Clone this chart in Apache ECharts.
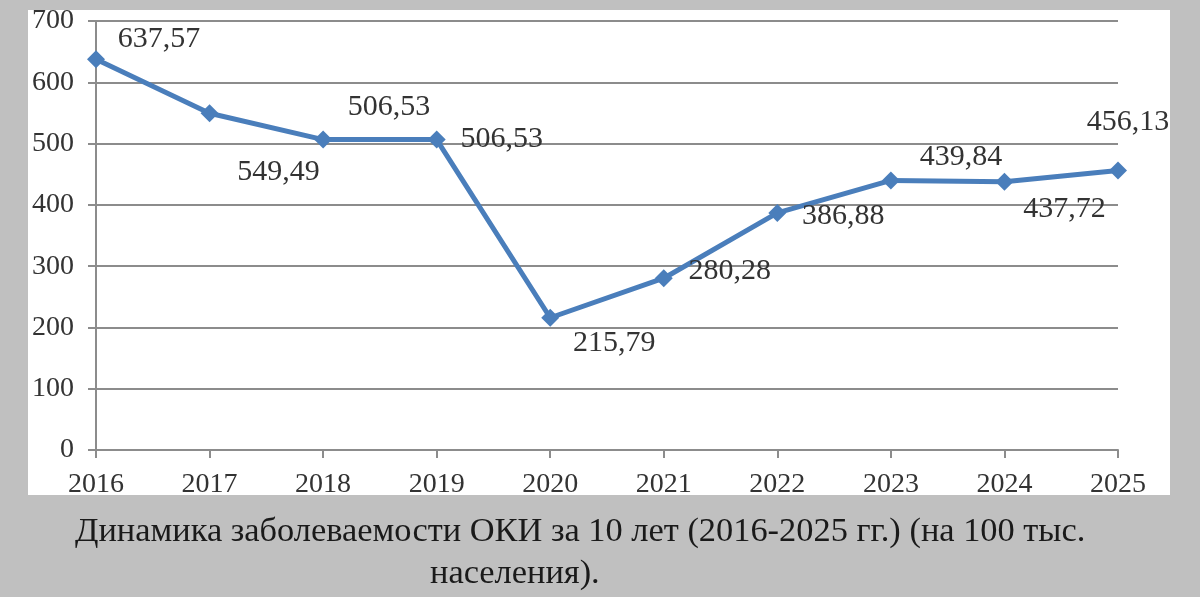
<!DOCTYPE html>
<html>
<head>
<meta charset="utf-8">
<script src="https://cdn.jsdelivr.net/npm/echarts@6/dist/echarts.min.js"></script>
<style>
html,body{margin:0;padding:0;background:#c0c0c0;}
#c{width:1200px;height:597px;}
</style>
</head>
<body>
<div id="c"></div>
<script>
const categories = ['2016','2017','2018','2019','2020','2021','2022','2023','2024','2025'];
const values = [637.57, 549.49, 506.53, 506.53, 215.79, 280.28, 386.88, 439.84, 437.72, 456.13];
const valueLabels = ['637,57','549,49','506,53','506,53','215,79','280,28','386,88','439,84','437,72','456,13'];
const yTicks = [0, 100, 200, 300, 400, 500, 600, 700];
const captionLine1 = 'Динамика заболеваемости ОКИ за 10 лет (2016-2025 гг.) (на 100 тыс.';
const captionLine2 = 'населения).';

// label placement (layout only)
const labelOffsets = [[63,-20],[69,59],[66,-32],[65,0],[64,25],[66,-7],[66,3],[70,-23],[60,27],[10,-48]];

const serif = '"Liberation Serif", "DejaVu Serif", serif';
const chart = echarts.init(document.getElementById('c'));
chart.setOption({
  animation: false,
  backgroundColor: '#c0c0c0',
  graphic: [
    {type:'rect', z:-10, shape:{x:28,y:10,width:1142,height:485}, style:{fill:'#ffffff'}},
    {type:'text', left:75, top:515, style:{text:captionLine1, font:'34.4px ' + serif, fill:'#1a1a1a'}},
    {type:'text', left:430, top:557, style:{text:captionLine2, font:'34.4px ' + serif, fill:'#1a1a1a'}}
  ],
  grid: {left:96, right:82, top:21, bottom:147, containLabel:false},
  xAxis: {
    type:'category', data:categories, boundaryGap:false,
    axisLine:{lineStyle:{color:'#8c8c8c', width:2}},
    axisTick:{show:true, length:8, lineStyle:{color:'#8c8c8c', width:2}},
    axisLabel:{color:'#333', fontFamily:serif, fontSize:28, margin:21}
  },
  yAxis: {
    type:'value', min:yTicks[0], max:yTicks[yTicks.length-1], interval:100,
    axisLine:{show:true, lineStyle:{color:'#8c8c8c', width:2}},
    axisTick:{show:true, length:8, lineStyle:{color:'#8c8c8c', width:2}},
    splitLine:{show:true, lineStyle:{color:'#8c8c8c', width:2}},
    axisLabel:{color:'#333', fontFamily:serif, fontSize:28, margin:22}
  },
  series: [{
    type:'line',
    data: values.map((v,i)=>({value:v, label:{show:true, position:'inside', offset:labelOffsets[i], formatter:valueLabels[i]}})),
    lineStyle:{color:'#4a7ebb', width:5},
    itemStyle:{color:'#4a7ebb'},
    symbol:'diamond', symbolSize:18,
    label:{color:'#333', fontFamily:serif, fontSize:30, align:'center', verticalAlign:'middle'}
  }]
});
</script>
</body>
</html>
